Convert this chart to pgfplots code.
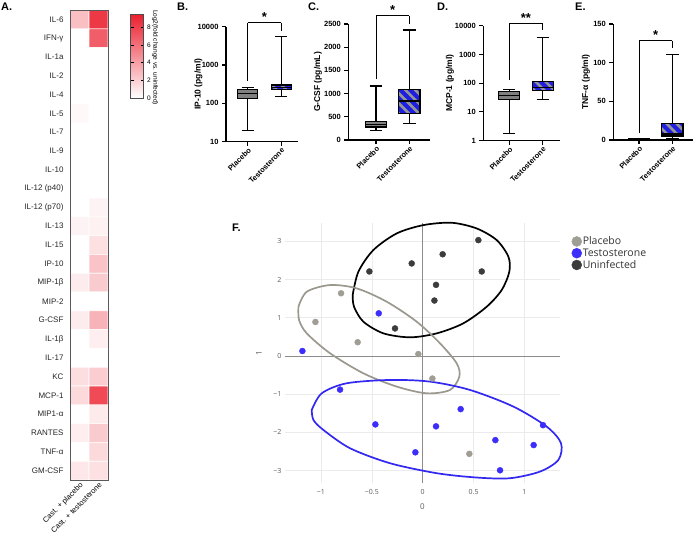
\documentclass[border=0pt]{standalone}
\usepackage{fontspec}
\setmainfont{Liberation Sans}
\newfontfamily\plotly{Open Sans}
\usepackage{pgfplots}
\pgfplotsset{compat=1.18}
\usetikzlibrary{patterns.meta}

\definecolor{boxgray}{RGB}{128,128,128}
\definecolor{tblue}{RGB}{30,30,225}
\definecolor{stripe}{RGB}{150,150,150}
\definecolor{ptgray}{RGB}{160,157,148}
\definecolor{ptblue}{RGB}{60,45,250}
\definecolor{ptdark}{RGB}{60,60,60}
\definecolor{elgray}{RGB}{155,152,142}
\definecolor{elblue}{RGB}{50,40,240}

\pgfplotsset{
  gp/.style={anchor=south west, scale only axis, axis lines*=left,
    axis line style={line width=1.1pt},
    every tick/.style={black, line width=1.1pt},
    major tick length=4pt, tick align=outside, yminorticks=false,
    xtick={1,2}, xticklabels={Placebo,Testosterone},
    xticklabel style={rotate=45, anchor=north east, inner sep=1pt,
      font=\bfseries\fontsize{7.5}{8}\selectfont},
    yticklabel style={font=\bfseries\fontsize{7.5}{8}\selectfont},
    ylabel style={font=\bfseries\fontsize{8.5}{9}\selectfont, anchor=center},
    unbounded coords=jump, clip=false},
  pbox/.style={draw=black, line width=1.1pt, fill=boxgray, forget plot},
  tbox/.style={draw=black, line width=1.1pt, preaction={fill=tblue},
    pattern={Lines[angle=-45,distance=7pt,line width=2.6pt]}, pattern color=stripe,
    forget plot},
  wsk/.style={black, line width=1.1pt, forget plot},
  brk/.style={black, line width=0.8pt, forget plot},
}
\newcommand{\panel}[1]{{\bfseries\fontsize{11}{11}\selectfont #1}}
\newcommand{\sig}[1]{{\bfseries\fontsize{13}{13}\selectfont #1}}

\begin{document}
\begin{tikzpicture}[x=1pt,y=1pt]
\path[use as bounding box] (0,0) rectangle (696,536);

% panel letters
\node[anchor=west, inner sep=0] at (1,529) {\panel{A.}};
\node[anchor=west, inner sep=0] at (177,529) {\panel{B.}};
\node[anchor=west, inner sep=0] at (308,529) {\panel{C.}};
\node[anchor=west, inner sep=0] at (437,529) {\panel{D.}};
\node[anchor=west, inner sep=0] at (575,529) {\panel{E.}};
\node[anchor=west, inner sep=0] at (232,308) {\panel{F.}};

% ---------------- A: heatmap
\begin{axis}[at={(70pt,56pt)}, anchor=south west, scale only axis,
  width=38pt, height=470pt,
  xmin=-0.5, xmax=1.5, ymin=-0.5, ymax=24.5, y dir=reverse,
  axis line style={draw=black!65, line width=0.8pt},
  major tick length=0pt,
  xtick={0,1}, xticklabels={Cast. + placebo, Cast. + testosterone},
  xticklabel style={rotate=45, anchor=north east, inner sep=1pt,
    font=\fontsize{7.5}{8}\selectfont},
  ytick={0,...,24},
  yticklabels={IL-6,IFN-γ,IL-1a,IL-2,IL-4,IL-5,IL-7,IL-9,IL-10,IL-12 (p40),
    IL-12 (p70),IL-13,IL-15,IP-10,MIP-1β,MIP-2,G-CSF,IL-1β,IL-17,KC,MCP-1,
    MIP1-α,RANTES,TNF-α,GM-CSF},
  yticklabel style={font=\fontsize{8}{9}\selectfont, text=black!85, xshift=-3pt},
  colormap={reds}{rgb255=(255,255,255) rgb255=(235,30,45)},
  point meta min=0, point meta max=9.5,
  colorbar,
  colorbar style={at={(parent axis.north east)}, anchor=north west,
    xshift=14pt, yshift=-4pt, scale only axis, width=13pt, height=84pt,
    y dir=normal, ytick={0,2,4,6,8}, major tick length=3pt,
    tick align=inside, every tick/.style={black, line width=0.6pt},
    axis line style={draw=black!70, line width=0.6pt},
    yticklabel style={font=\fontsize{6.5}{7}\selectfont,
      /pgf/number format/assume math mode=true}},
]
\addplot[matrix plot, mesh/cols=2, point meta=explicit,
  shader=faceted, faceted color=white, line width=0.6pt] table[meta=c] {
x y c
0 0 2.7
1 0 8.3
0 1 0
1 1 6.8
0 2 0
1 2 0
0 3 0
1 3 0
0 4 0
1 4 0
0 5 0.3
1 5 0
0 6 0
1 6 0
0 7 0
1 7 0
0 8 0
1 8 0
0 9 0
1 9 0
0 10 0
1 10 0.5
0 11 0.5
1 11 0.6
0 12 0
1 12 1.3
0 13 0
1 13 2.5
0 14 0.8
1 14 2.2
0 15 0
1 15 0
0 16 0.8
1 16 3.2
0 17 0
1 17 0.7
0 18 0
1 18 0
0 19 1.4
1 19 2.1
0 20 1.6
1 20 7.6
0 21 0
1 21 0.9
0 22 0.7
1 22 2.2
0 23 0
1 23 1.6
0 24 1.0
1 24 1.3
};
\end{axis}
\node[rotate=-90, font=\fontsize{6.5}{7}\selectfont] at (155,478.5)
  {Log2(fold change vs. uninfected)};

% ---------------- B: IP-10
\begin{axis}[gp, at={(226pt,394.3pt)}, width=72pt, height=115pt,
  xmin=0.352, xmax=2.5, ymode=log, ymin=10, ymax=10000,
  ytick={10,100,1000,10000}, yticklabels={10,100,1000,10000},
  ylabel={IP-10 (pg/ml)}, ylabel style={at={(axis description cs:-0.382,0.5)}}]
% placebo: whiskers 20.1 / 261, box 135-232, median 182
\addplot[pbox] coordinates {(0.7,135) (1.3,135) (1.3,232) (0.7,232)} --cycle;
\addplot[wsk] coordinates {(0.7,182) (1.3,182) (nan,nan) (1,232) (1,261) (nan,nan)
  (0.82,261) (1.18,261) (nan,nan) (1,135) (1,20.1) (nan,nan) (0.82,20.1) (1.18,20.1)};
% testosterone: whiskers 149 / 5500, box 232-301, median 261
\addplot[tbox] coordinates {(1.7,232) (2.3,232) (2.3,301) (1.7,301)} --cycle;
\addplot[wsk] coordinates {(1.7,261) (2.3,261) (nan,nan) (2,301) (2,5500) (nan,nan)
  (1.82,5500) (2.18,5500) (nan,nan) (2,232) (2,149) (nan,nan) (1.82,149) (2.18,149)};
\addplot[brk] coordinates {(1,383) (1,12700) (nan,nan) (2,12700) (2,7870)};
\addplot[brk] coordinates {(1,12700) (2,12700)}
  node[pos=0.5, anchor=base, inner sep=0, yshift=1pt] {\sig{*}};
\end{axis}

% ---------------- C: G-CSF
\begin{axis}[gp, at={(348.3pt,396pt)}, width=81.7pt, height=116pt,
  xmin=0.168, xmax=2.62, ymin=0, ymax=2500,
  ytick={0,500,1000,1500,2000,2500}, yticklabels={0,500,1000,1500,2000,2500},
  ylabel={G-CSF (pg/mL)}, ylabel style={at={(axis description cs:-0.371,0.5)}}]
\addplot[pbox] coordinates {(0.68,280) (1.32,280) (1.32,400) (0.68,400)} --cycle;
\addplot[wsk] coordinates {(0.68,340) (1.32,340) (nan,nan) (1,400) (1,1163) (nan,nan)
  (0.81,1163) (1.19,1163) (nan,nan) (1,280) (1,200) (nan,nan) (0.81,200) (1.19,200)};
\addplot[tbox] coordinates {(1.68,574) (2.32,574) (2.32,1098) (1.68,1098)} --cycle;
\addplot[wsk] coordinates {(1.68,840) (2.32,840) (nan,nan) (2,1098) (2,2370) (nan,nan)
  (1.81,2370) (2.19,2370) (nan,nan) (2,574) (2,359) (nan,nan) (1.81,359) (2.19,359)};
\addplot[brk] coordinates {(1,1314) (1,2678) (nan,nan) (2,2678) (2,2491)};
\addplot[brk] coordinates {(1,2678) (2,2678)}
  node[pos=0.5, anchor=base, inner sep=0, yshift=1pt] {\sig{*}};
\end{axis}

% ---------------- D: MCP-1
\begin{axis}[gp, at={(483.3pt,395.3pt)}, width=76.7pt, height=115pt,
  xmin=0.222, xmax=2.518, ymode=log, ymin=1, ymax=10000,
  ytick={1,10,100,1000,10000}, yticklabels={1,10,100,1000,10000},
  ylabel={MCP-1 (pg/ml)}, ylabel style={at={(axis description cs:-0.434,0.5)}}]
\addplot[pbox] coordinates {(0.69,27.4) (1.31,27.4) (1.31,50.6) (0.69,50.6)} --cycle;
\addplot[wsk] coordinates {(0.69,38.7) (1.31,38.7) (nan,nan) (1,50.6) (1,61) (nan,nan)
  (0.815,61) (1.185,61) (nan,nan) (1,27.4) (1,1.8) (nan,nan) (0.815,1.8) (1.185,1.8)};
\addplot[tbox] coordinates {(1.69,54.8) (2.31,54.8) (2.31,113) (1.69,113)} --cycle;
\addplot[wsk] coordinates {(1.69,71.6) (2.31,71.6) (nan,nan) (2,113) (2,3930) (nan,nan)
  (1.815,3930) (2.185,3930) (nan,nan) (2,54.8) (2,27.4) (nan,nan) (1.815,27.4) (2.185,27.4)};
\addplot[brk] coordinates {(1,129) (1,12050) (nan,nan) (2,12050) (2,7000)};
\addplot[brk] coordinates {(1,12050) (2,12050)}
  node[pos=0.5, anchor=base, inner sep=0, yshift=1pt] {\sig{**}};
\end{axis}

% ---------------- E: TNF-alpha
\begin{axis}[gp, at={(613.3pt,396pt)}, width=79.7pt, height=116pt,
  xmin=0.228, xmax=2.62, ymin=0, ymax=150,
  ytick={0,50,100,150}, yticklabels={0,50,100,150},
  ylabel={TNF-α (pg/ml)}, ylabel style={at={(axis description cs:-0.343,0.5)}}]
\addplot[pbox] coordinates {(0.68,1) (1.32,1) (1.32,2) (0.68,2)} --cycle;
\addplot[wsk] coordinates {(0.68,1.5) (1.32,1.5) (nan,nan) (1,2) (1,2.5) (nan,nan)
  (0.81,2.5) (1.19,2.5) (nan,nan) (1,1) (1,0.6) (nan,nan) (0.81,0.6) (1.19,0.6)};
\addplot[tbox] coordinates {(1.68,5.2) (2.32,5.2) (2.32,21.5) (1.68,21.5)} --cycle;
\addplot[wsk] coordinates {(1.68,7.8) (2.32,7.8) (nan,nan) (2,21.5) (2,111) (nan,nan)
  (1.81,111) (2.19,111) (nan,nan) (2,5.2) (2,2.2) (nan,nan) (1.81,2.2) (2.19,2.2)};
\addplot[brk] coordinates {(1,8.6) (1,128.4) (nan,nan) (2,128.4) (2,118.5)};
\addplot[brk] coordinates {(1,128.4) (2,128.4)}
  node[pos=0.5, anchor=base, inner sep=0, yshift=1pt] {\sig{*}};
\end{axis}

% ---------------- F: PCA scatter
\begin{axis}[at={(285pt,52.7pt)}, anchor=south west, scale only axis,
  width=275pt, height=260pt,
  xmin=-1.353, xmax=1.349, ymin=-3.33, ymax=3.47,
  axis line style={draw=none}, major tick length=0pt,
  grid=major, major grid style={draw=black!8, line width=0.6pt},
  xtick={-1,-0.5,0,0.5,1}, xticklabels={−1,−0.5,0,0.5,1},
  ytick={-3,-2,-1,0,1,2,3}, yticklabels={−3,−2,−1,0,1,2,3},
  tick label style={font=\plotly\fontsize{7}{8}\selectfont, text=black!65},
  xticklabel style={yshift=-3pt},
  xlabel={0}, ylabel={1},
  label style={font=\plotly\fontsize{8}{9}\selectfont, text=black!65},
  xlabel style={at={(axis description cs:0.5,-0.091)}, anchor=center},
  ylabel style={at={(axis description cs:-0.0945,0.5)}, anchor=center},
  clip=false,
  legend style={at={(1.042,0.953)}, anchor=north west, draw=none, fill=none,
    font=\plotly\fontsize{10.5}{12}\selectfont, text=black!80, row sep=0.5pt,
    inner sep=0pt, nodes={inner sep=1pt}},
  legend cell align=left,
  legend image code/.code={\draw[#1, mark size=5pt] plot coordinates {(0.18cm,0cm)};},
]
\addplot[black!45, line width=0.7pt, forget plot] coordinates {(0,-3.33) (0,3.47)};
\addplot[black!45, line width=0.7pt, forget plot] coordinates {(-1.353,0) (1.349,0)};
% ellipses
\addplot[black, line width=1.7pt, smooth, forget plot] coordinates {
(-0.688,1.594) (-0.632,2.204) (-0.485,2.770) (-0.255,3.206) (0.007,3.423)
(0.285,3.484) (0.530,3.336) (0.727,3.031) (0.842,2.596) (0.851,2.204)
(0.776,1.725) (0.629,1.289) (0.399,0.854) (0.138,0.592) (-0.124,0.488)
(-0.386,0.592) (-0.583,0.897) (-0.675,1.289) (-0.688,1.594)};
\addplot[elgray, line width=1.7pt, smooth, forget plot] coordinates {
(-1.221,1.289) (-1.139,1.681) (-0.910,1.855) (-0.648,1.768) (-0.354,1.420)
(-0.059,0.897) (0.170,0.331) (0.334,-0.192) (0.360,-0.540) (0.268,-0.889)
(0.039,-0.976) (-0.255,-0.801) (-0.583,-0.453) (-0.910,0.070) (-1.139,0.592)
(-1.215,0.941) (-1.221,1.289)};
\addplot[elblue, line width=1.7pt, smooth, forget plot] coordinates {
(-1.090,-1.411) (-0.992,-0.976) (-0.747,-0.714) (-0.321,-0.627) (0.072,-0.671)
(0.465,-0.889) (0.891,-1.324) (1.218,-1.847) (1.359,-2.282) (1.333,-2.718)
(1.153,-3.023) (0.858,-3.197) (0.530,-3.179) (0.138,-3.066) (-0.321,-2.805)
(-0.714,-2.413) (-0.976,-1.934) (-1.074,-1.672) (-1.090,-1.411)};
% points
\addplot[only marks, mark=*, mark size=3pt, color=ptgray] coordinates {
(-0.802,1.64) (-1.054,0.89) (-0.639,0.36) (-0.043,0.05) (0.095,-0.59) (0.458,-2.56)};
\addlegendentry{Placebo}
\addplot[only marks, mark=*, mark size=3pt, color=ptblue] coordinates {
(-0.432,1.115) (-1.182,0.13) (-0.812,-0.88) (-0.465,-1.79) (0.131,-1.84)
(0.373,-1.39) (-0.072,-2.52) (0.714,-2.20) (1.09,-2.33) (1.182,-1.81) (0.76,-2.99)};
\addlegendentry{Testosterone}
\addplot[only marks, mark=*, mark size=3pt, color=ptdark] coordinates {
(0.547,3.03) (0.196,2.66) (-0.108,2.42) (-0.524,2.21) (0.58,2.21)
(0.131,1.86) (0.115,1.45) (-0.272,0.72)};
\addlegendentry{Uninfected}
\end{axis}
\end{tikzpicture}
\end{document}
